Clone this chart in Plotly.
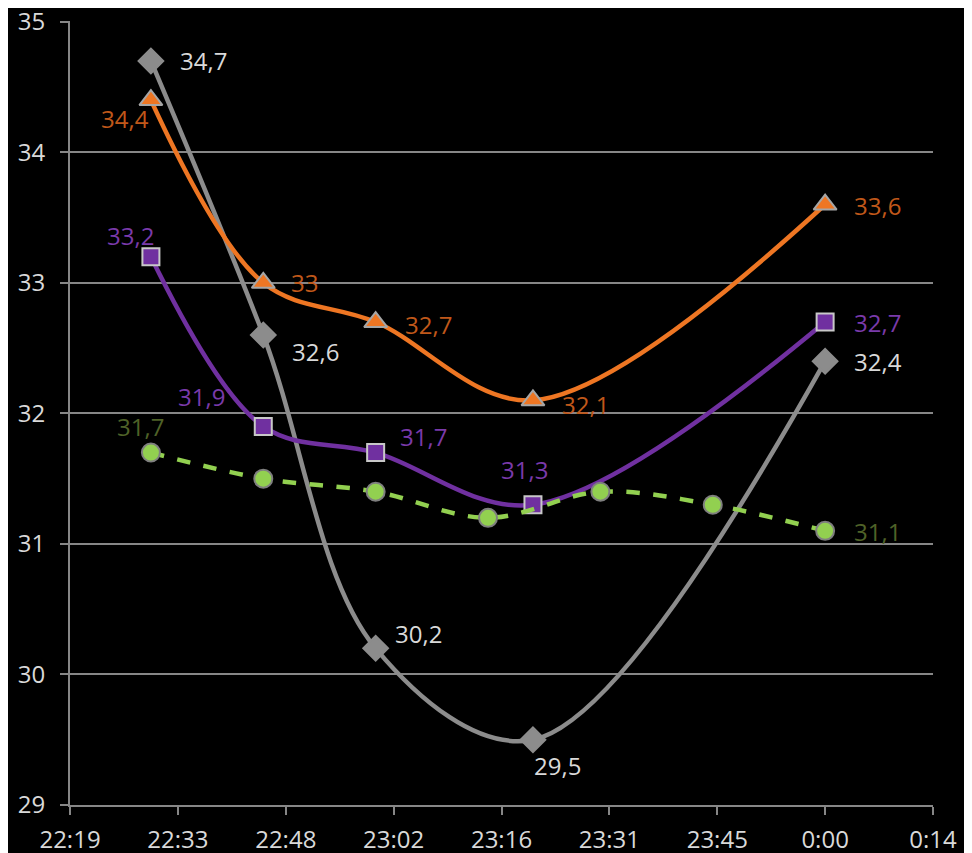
import plotly.graph_objects as go

# 数据：时间点 + 四条曲线
gray_time = ['22:30', '22:45', '23:00', '23:21', '0:00']
gray_val = [34.7, 32.6, 30.2, 29.5, 32.4]

orange_time = ['22:30', '22:45', '23:00', '23:21', '0:00']
orange_val = [34.4, 33.0, 32.7, 32.1, 33.6]

purple_time = ['22:30', '22:45', '23:00', '23:21', '0:00']
purple_val = [33.2, 31.9, 31.7, 31.3, 32.7]

green_time = ['22:30', '22:45', '23:00', '23:15', '23:30', '23:45', '0:00']
green_val = [31.7, 31.5, 31.4, 31.2, 31.4, 31.3, 31.1]

x_ticktext = ['22:19', '22:33', '22:48', '23:02', '23:16', '23:31', '23:45', '0:00', '0:14']
y_ticks = [29, 30, 31, 32, 33, 34, 35]


def to_min(t):
    # 午夜之后的时间算到第二天
    h, m = t.split(':')
    v = int(h) * 60 + int(m)
    if v < 12 * 60:
        v += 24 * 60
    return v


def fmt(v):
    s = ('%g' % v)
    return s.replace('.', ',')


# 坐标轴刻度 = Excel 的 0.01 天
x_tickvals = [1339.2 + 14.4 * i for i in range(len(x_ticktext))]

FONT = 'Open Sans'
FS = 24

fig = go.Figure()

series = [
    # name, times, vals, line color, dash, marker symbol, marker size, marker color, outline, label color, label offsets
    ('gray', gray_time, gray_val, '#8c8c8c', 'solid', 'diamond', 19, '#8c8c8c', '#8c8c8c', '#d9d9d9',
     [('left', 27, 0), ('left', 27, -16), ('left', 17, 15), ('left', -1, -26), ('left', 27, 0)]),
    ('orange', orange_time, orange_val, '#ee7623', 'solid', 'triangle-up', 20, '#ee7623', '#a6a6a6', '#c0581a',
     [('right', 0, -18), ('left', 26, 0), ('left', 27, -2), ('left', 27, -4), ('left', 27, -1)]),
    ('purple', purple_time, purple_val, '#7030a0', 'solid', 'square', 17, '#7030a0', '#c8c8c8', '#7a3aaa',
     [('right', 5, 21), ('right', -36, 30), ('left', 22, 16), ('center', -8, 35), ('left', 27, 0)]),
    ('green', green_time, green_val, '#92d050', 'dash', 'circle', 18, '#92d050', '#7f7f7f', '#4f6228',
     [('center', -10, 26), None, None, None, None, None, ('left', 27, -1)]),
]

annotations = []
for name, times, vals, lc, dash, sym, ms, mc, oc, tc, offs in series:
    xs = [to_min(t) for t in times]
    fig.add_trace(go.Scatter(
        x=xs, y=vals, mode='lines+markers', name=name,
        line=dict(color=lc, width=4.5, dash=dash, shape='spline', smoothing=1.0),
        marker=dict(symbol=sym, size=ms, color=mc, line=dict(color=oc, width=2)),
        showlegend=False, hoverinfo='skip'))
    for x, y, o in zip(xs, vals, offs):
        if o is None:
            continue
        anchor, dx, dy = o
        annotations.append(dict(x=x, y=y, xref='x', yref='y', text=fmt(y), showarrow=False,
                                xanchor=anchor, yanchor='middle', xshift=dx, yshift=dy,
                                font=dict(family=FONT, size=FS, color=tc)))

fig.update_layout(
    width=972, height=853,
    paper_bgcolor='black', plot_bgcolor='black',
    margin=dict(l=62, r=47, t=13, b=56, pad=0, autoexpand=False),
    annotations=annotations,
    font=dict(family=FONT, size=FS, color='#d9d9d9'),
)
fig.update_xaxes(range=[1339.2, 1454.4], tickvals=x_tickvals, ticktext=x_ticktext,
                 showgrid=False, zeroline=False, automargin=False,
                 showline=True, linecolor='#868686', linewidth=2,
                 ticks='outside', ticklen=8, tickcolor='#868686', tickwidth=2,
                 ticklabelstandoff=4, ticklabeloverflow='allow',
                 tickfont=dict(family=FONT, size=FS, color='#d9d9d9'))
fig.update_yaxes(range=[29, 35.006], tickvals=y_ticks,
                 showgrid=True, gridcolor='#868686', gridwidth=2, zeroline=False,
                 automargin=False,
                 showline=True, linecolor='#868686', linewidth=2,
                 ticks='outside', ticklen=8, tickcolor='#868686', tickwidth=2,
                 ticklabelstandoff=10, ticklabeloverflow='allow',
                 tickfont=dict(family=FONT, size=FS, color='#d9d9d9'))

fig.write_html('out.html')
